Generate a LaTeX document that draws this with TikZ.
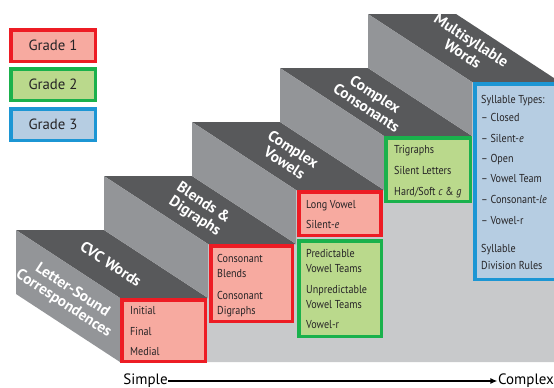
\documentclass[tikz,border=0pt]{standalone}
\usepackage{fontspec}
\setmainfont{PT Sans}
\newfontfamily\boxfont{PT Sans}[FakeStretch=0.88]
\usetikzlibrary{arrows.meta}
\definecolor{treadc}{RGB}{88,89,91}
\definecolor{riserc}{RGB}{147,149,152}
\definecolor{frontc}{RGB}{200,201,203}
\definecolor{gOneLine}{RGB}{237,28,36}
\definecolor{gOneFill}{RGB}{247,170,160}
\definecolor{gTwoLine}{RGB}{26,177,76}
\definecolor{gTwoFill}{RGB}{186,217,140}
\definecolor{gThreeLine}{RGB}{28,150,212}
\definecolor{gThreeFill}{RGB}{182,205,226}
\definecolor{txt}{RGB}{38,36,38}
\tikzset{
  gonebox/.style={draw=gOneLine, fill=gOneFill, line width=3.5pt},
  gtwobox/.style={draw=gTwoLine, fill=gTwoFill, line width=3.5pt},
  gthreebox/.style={draw=gThreeLine, fill=gThreeFill, line width=3.5pt},
  itm/.style={anchor=base west, inner sep=0pt, font=\boxfont\fontsize{11.5}{14}\selectfont, text=txt},
  steplabel/.style={rotate=-33.2, align=center, text=white, font=\bfseries\fontsize{15.3}{16}\selectfont, inner sep=0pt},
  legendtxt/.style={font=\fontsize{14.8}{16}\selectfont, text=txt, inner sep=0pt},
  axistxt/.style={font=\fontsize{15}{17}\selectfont, text=black, inner sep=0.5pt},
}
\begin{document}
\begin{tikzpicture}[x=1pt,y=-1pt]
\useasboundingbox (0,0) rectangle (554,388);
\begin{scope}
\clip (0,0) rectangle (554,388);
% front face
\fill[frontc] (120,362) -- (120,298) -- (208,298) -- (208,244) -- (296,244) -- (296,190)
  -- (384,190) -- (384,136) -- (472,136) -- (472,82) -- (560,82) -- (560,362) -- cycle;
% treads
\foreach \k in {0,...,4}{
  \pgfmathsetmacro\xa{120+88*\k}
  \pgfmathsetmacro\ya{298-54*\k}
  \fill[treadc] (\xa,\ya) -- (\xa+88,\ya) -- (\xa-16,\ya-68) -- (\xa-104,\ya-68) -- cycle;
}
% risers
\fill[riserc] (120,298) -- (120,362) -- (16,294) -- (16,230) -- cycle;
\foreach \k in {1,...,4}{
  \pgfmathsetmacro\xa{120+88*\k}
  \pgfmathsetmacro\ya{298-54*\k}
  \fill[riserc] (\xa,\ya) -- (\xa,\ya+54) -- (\xa-104,\ya-14) -- (\xa-104,\ya-68) -- cycle;
}
% grade boxes on the steps
\draw[gonebox] (121.75,299.75) rectangle (205.25,361.25);
\draw[gonebox] (210.75,245.75) rectangle (292.25,321.25);
\draw[gonebox] (298.75,191.75) rectangle (380.75,235.25);
\draw[gtwobox] (298.75,240.75) rectangle (381.25,336.25);
\draw[gtwobox] (385.75,137.75) rectangle (470.25,201.25);
\draw[gthreebox] (474.75,83.75) rectangle (560,279.25);
\end{scope}
% legend
\draw[gonebox] (10.75,29.75) rectangle (95.25,61.25);
\draw[gtwobox] (10.75,68.75) rectangle (95.25,100.25);
\draw[gthreebox] (10.75,108.75) rectangle (95.25,140.25);
\node[legendtxt] (lg1) at (53,45.5) {Grade 1};
\node[legendtxt] (lg2) at (53,84.5) {Grade 2};
\node[legendtxt] (lg3) at (53,124.5) {Grade 3};
% step labels
\node[steplabel] (s0r) at (68,297) {Letter-Sound\\Correspondences};
\node[steplabel] (s0) at (111,264) {CVC Words};
\node[steplabel] (s1) at (199,210) {Blends \&\\Digraphs};
\node[steplabel] (s2) at (289,156) {Complex\\Vowels};
\node[steplabel] (s3) at (371,101) {Complex\\Consonants};
\node[steplabel] (s4) at (467,47) {Multisyllable\\Words};
% box texts
\node[itm] (t1a) at (130,314) {Initial};
\node[itm] (t1b) at (130,335) {Final};
\node[itm] (t1c) at (130,355) {Medial};
\node[itm] (t2a) at (217,262) {Consonant};
\node[itm] (t2b) at (217,277) {Blends};
\node[itm] (t2c) at (217,299) {Consonant};
\node[itm] (t2d) at (217,314) {Digraphs};
\node[itm] (t3a) at (306,208) {Long Vowel};
\node[itm] (t3b) at (306,228) {Silent-\textit{e}};
\node[itm] (t3c) at (306,257) {Predictable};
\node[itm] (t3d) at (306,272) {Vowel Teams};
\node[itm] (t3e) at (306,293) {Unpredictable};
\node[itm] (t3f) at (306,308) {Vowel Teams};
\node[itm] (t3g) at (306,328) {Vowel-r};
\node[itm] (t4a) at (394,153) {Trigraphs};
\node[itm] (t4b) at (394,174) {Silent Letters};
\node[itm] (t4c) at (394,195) {Hard/Soft \textit{c} \& \textit{g}};
\node[itm] (t5a) at (481,103) {Syllable Types:};
\node[itm] (t5b) at (481,121) {\textendash{} Closed};
\node[itm] (t5c) at (481,142) {\textendash{} Silent-\textit{e}};
\node[itm] (t5d) at (481,162) {\textendash{} Open};
\node[itm] (t5e) at (481,182) {\textendash{} Vowel Team};
\node[itm] (t5f) at (481,203) {\textendash{} Consonant-\textit{le}};
\node[itm] (t5g) at (481,224) {\textendash{} Vowel-r};
\node[itm] (t5h) at (481,252) {Syllable};
\node[itm] (t5i) at (481,269) {Division Rules};
% axis
\node[axistxt] (simple) at (145.5,381) {Simple};
\node[axistxt] (complex) at (526,381) {Complex};
\draw[line width=1.8pt, -{Latex[length=7pt,width=6pt]}] (simple.east) -- (complex.west);
\end{tikzpicture}
\end{document}
